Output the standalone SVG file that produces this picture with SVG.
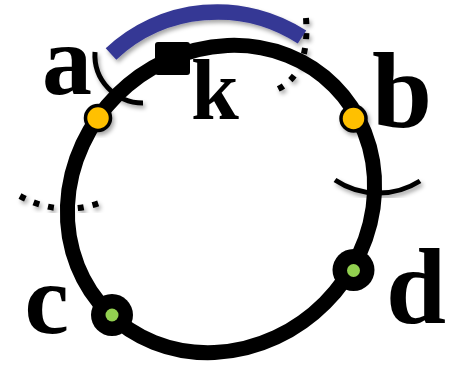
<svg xmlns="http://www.w3.org/2000/svg" width="452" height="368" viewBox="0 0 452 368">
<defs>
<filter id="sh" x="-30%" y="-30%" width="160%" height="160%">
<feDropShadow dx="2" dy="3" stdDeviation="2" flood-color="#000" flood-opacity="0.35"/>
</filter>
<style>
.lbl{font-family:"Liberation Serif","Times New Roman",serif;font-weight:bold;fill:#000}
.thin{fill:none;stroke:#000;stroke-width:5;filter:url(#sh)}
.dot{fill:none;stroke:#000;stroke-width:6;stroke-dasharray:6 9;filter:url(#sh)}
.yel{fill:#FFC000;stroke:#000;stroke-width:3.5;filter:url(#sh)}
.blk{fill:#000}
.grn{fill:#92D050}
</style>
</defs>
<g id="connectors">
<path id="arc-left-dotted" class="dot" d="M20,196 Q60,218 102,202"/>
<path id="arc-top-dotted" class="dot" d="M306,18 Q310,75 276,90"/>
<ellipse id="ring" cx="221" cy="199" rx="160" ry="147" transform="rotate(-45 221 199)" fill="none" stroke="#000" stroke-width="15"/>
<path id="arc-blue" d="M111,54 A155.6,155.6 0 0 1 302,37" fill="none" stroke="#363895" stroke-width="15.5" filter="url(#sh)"/>
<path id="arc-a" class="thin" d="M95,52 A48,48 0 0 0 143,103"/>
<path id="arc-b" class="thin" d="M335,180 A78,78 0 0 0 420,181"/>
</g>
<g id="node-k">
<rect x="155" y="42" width="35" height="33" rx="3" class="blk"/>
<text class="lbl" x="191" y="119" font-size="86">k</text>
</g>
<g id="node-a">
<circle cx="98" cy="118" r="12.5" class="yel"/>
<text class="lbl" x="42" y="93.5" font-size="100">a</text>
</g>
<g id="node-b">
<circle cx="353.5" cy="118.5" r="12.5" class="yel"/>
<text class="lbl" x="372" y="126.5" font-size="108">b</text>
</g>
<g id="node-c">
<circle cx="112" cy="315" r="21" class="blk"/>
<circle cx="112" cy="315" r="6.5" class="grn"/>
<text class="lbl" x="24.5" y="332.5" font-size="100">c</text>
</g>
<g id="node-d">
<circle cx="353.5" cy="270" r="21" class="blk"/>
<circle cx="353.5" cy="270.5" r="6.5" class="grn"/>
<text class="lbl" x="386" y="322.5" font-size="108">d</text>
</g>
</svg>
